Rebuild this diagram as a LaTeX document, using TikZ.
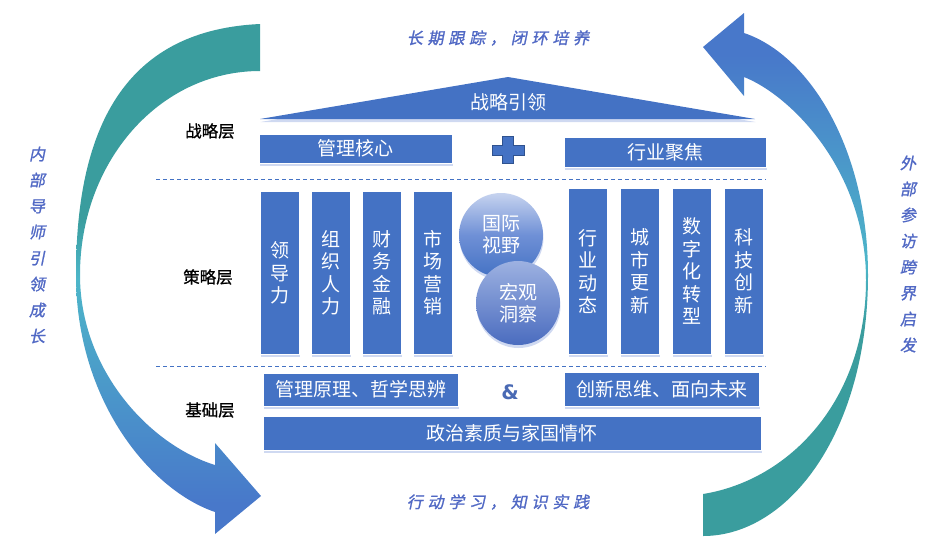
\documentclass[tikz,border=0pt]{standalone}
\usepackage{fontspec}
\usepackage{tikz}
\usetikzlibrary{positioning,shadows}
\newfontfamily\cjk{Noto Sans CJK SC}
\newfontfamily\cjklayer[FakeBold=0.8]{Noto Sans CJK SC}
\newfontfamily\cjkpen[FakeSlant=0.2,FakeBold=1.2,LetterSpace=30]{Noto Sans CJK SC}
\newfontfamily\ampfont{DejaVu Sans}
\definecolor{boxblue}{HTML}{4472C4}
\definecolor{crossline}{HTML}{2F528F}
\definecolor{glow}{HTML}{C3CFEE}
\definecolor{penblue}{HTML}{5068C4}
\definecolor{ampblue}{HTML}{4A6AB4}
\definecolor{arcteal}{HTML}{3A9D9E}
\definecolor{arccyan}{HTML}{4DB6C9}
\definecolor{arcblue}{HTML}{4878CA}
\definecolor{balltop}{HTML}{C6D3EF}
\definecolor{ballmid}{HTML}{6F90D6}
\definecolor{balltwo}{HTML}{9DB1E1}
\definecolor{ballbot}{HTML}{4A6CBF}
\pgfdeclareverticalshading{leftarc}{100bp}{color(0bp)=(arcblue); color(28bp)=(arcblue); color(50bp)=(arccyan); color(56bp)=(arcteal); color(100bp)=(arcteal)}
\pgfdeclareverticalshading{rightarc}{100bp}{color(0bp)=(arcteal); color(45bp)=(arcteal); color(51bp)=(arccyan); color(71bp)=(arcblue); color(100bp)=(arcblue)}
\tikzset{
  glowshadow/.style={drop shadow={shadow xshift=.5pt, shadow yshift=-3pt, fill=glow, opacity=.8}},
  blk/.style={draw=white, line width=.8pt, fill=boxblue, text=white, inner sep=0pt, glowshadow,
    font=\cjk\fontsize{19}{22.5}\selectfont},
}

\begin{document}
\begin{tikzpicture}[
  x=1pt, y=-1pt,
  pillar/.style={blk, minimum width=39pt, minimum height=163pt, text width=20pt, align=center},
  ball/.style={circle, minimum size=84pt, inner sep=0pt, text=white, align=center, glowshadow,
    font=\cjk\fontsize{19}{22}\selectfont},
  layer/.style={font=\cjklayer\fontsize{16.5}{16.5}\selectfont, text=black},
  pen/.style={font=\cjkpen\fontsize{16}{26}\selectfont, text=penblue, align=center},
  sep/.style={draw=boxblue, line width=.8pt, dash pattern=on 4pt off 3pt}
]
\useasboundingbox (0,0) rectangle (945,550);

% the two cycle arrows
\shade[shading=leftarc] (260,24) .. controls (130,30) and (76,120) .. (76,275)
  .. controls (76,400) and (150,490) .. (215,512) -- (215,534) -- (261,496) -- (215,443) -- (215,465)
  .. controls (150,445) and (80,370) .. (80,275)
  .. controls (80,162) and (159,71) .. (260,71) -- cycle;
\shade[shading=rightarc] (703,536) .. controls (790,536) and (868,430) .. (868,275)
  .. controls (868,150) and (810,55) .. (744,33) -- (744,13) -- (703,47) -- (744,96) -- (744,77)
  .. controls (790,95) and (866,170) .. (866,280)
  .. controls (866,400) and (790,480) .. (703,494) -- cycle;

\node[pen] (track) at (498,38) {长期跟踪，闭环培养};
\node[pen] (act) at (498,502) {行动学习，知识实践};
\node[pen] (mentor) at (37,245) {内\\部\\导\\师\\引\\领\\成\\长};
\node[pen] (visit) at (908,254) {外\\部\\参\\访\\跨\\界\\启\\发};

% strategy layer
\fill[boxblue, glowshadow] (260,119) -- (508,77) -- (755,119) -- cycle;
\node[font=\cjk\fontsize{19}{19}\selectfont, text=white] (lead) at (508,102) {战略引领};
\node[blk, minimum width=193pt, minimum height=29pt] (core) at (355.5,148.5) {管理核心};
\node[blk, minimum width=202pt, minimum height=30pt] (focus) at (665,152) {行业聚焦};
\filldraw[fill=boxblue, draw=crossline, line width=.8pt]
  (502,136) -- (513,136) -- (513,145) -- (524,145) -- (524,155) -- (513,155) -- (513,163)
  -- (502,163) -- (502,155) -- (492,155) -- (492,145) -- (502,145) -- cycle;
\node[layer] (top) at (210,131) {战略层};

\draw[sep] (156,179) -- (766,179);

% tactic layer
\node[pillar, anchor=north west] (p1) at (260,191) {领\\导\\力};
\node[pillar, right=11.2pt of p1] (p2) {组\\织\\人\\力};
\node[pillar, right=11.2pt of p2] (p3) {财\\务\\金\\融};
\node[pillar, right=11.2pt of p3] (p4) {市\\场\\营\\销};
\node[pillar, minimum height=166pt, anchor=north west] (q1) at (568,188) {行\\业\\动\\态};
\node[pillar, minimum height=166pt, right=12.2pt of q1] (q2) {城\\市\\更\\新};
\node[pillar, minimum height=166pt, right=12.2pt of q2] (q3) {数\\字\\化\\转\\型};
\node[pillar, minimum height=166pt, right=12.2pt of q3] (q4) {科\\技\\创\\新};
\node[ball, top color=balltop, bottom color=boxblue, middle color=ballmid] (intl) at (501,235) {国际\\视野};
\node[ball, top color=balltwo, bottom color=ballbot] (macro) at (518,303) {宏观\\洞察};
\node[layer] (mid) at (208,277) {策略层};

\draw[sep] (156,366) -- (766,366);

% base layer
\node[blk, minimum width=195pt, minimum height=33pt] (theory) at (360.5,389.5) {管理原理、哲学思辨};
\node[blk, minimum width=195pt, minimum height=34pt] (future) at (661.5,389) {创新思维、面向未来};
\node[font=\ampfont\bfseries\fontsize{20}{20}\selectfont, text=ampblue] (and) at (510,392) {\&};
\node[blk, minimum width=498pt, minimum height=34pt] (polit) at (512,433) {政治素质与家国情怀};
\node[layer] (base) at (210,410) {基础层};
\end{tikzpicture}
\end{document}
